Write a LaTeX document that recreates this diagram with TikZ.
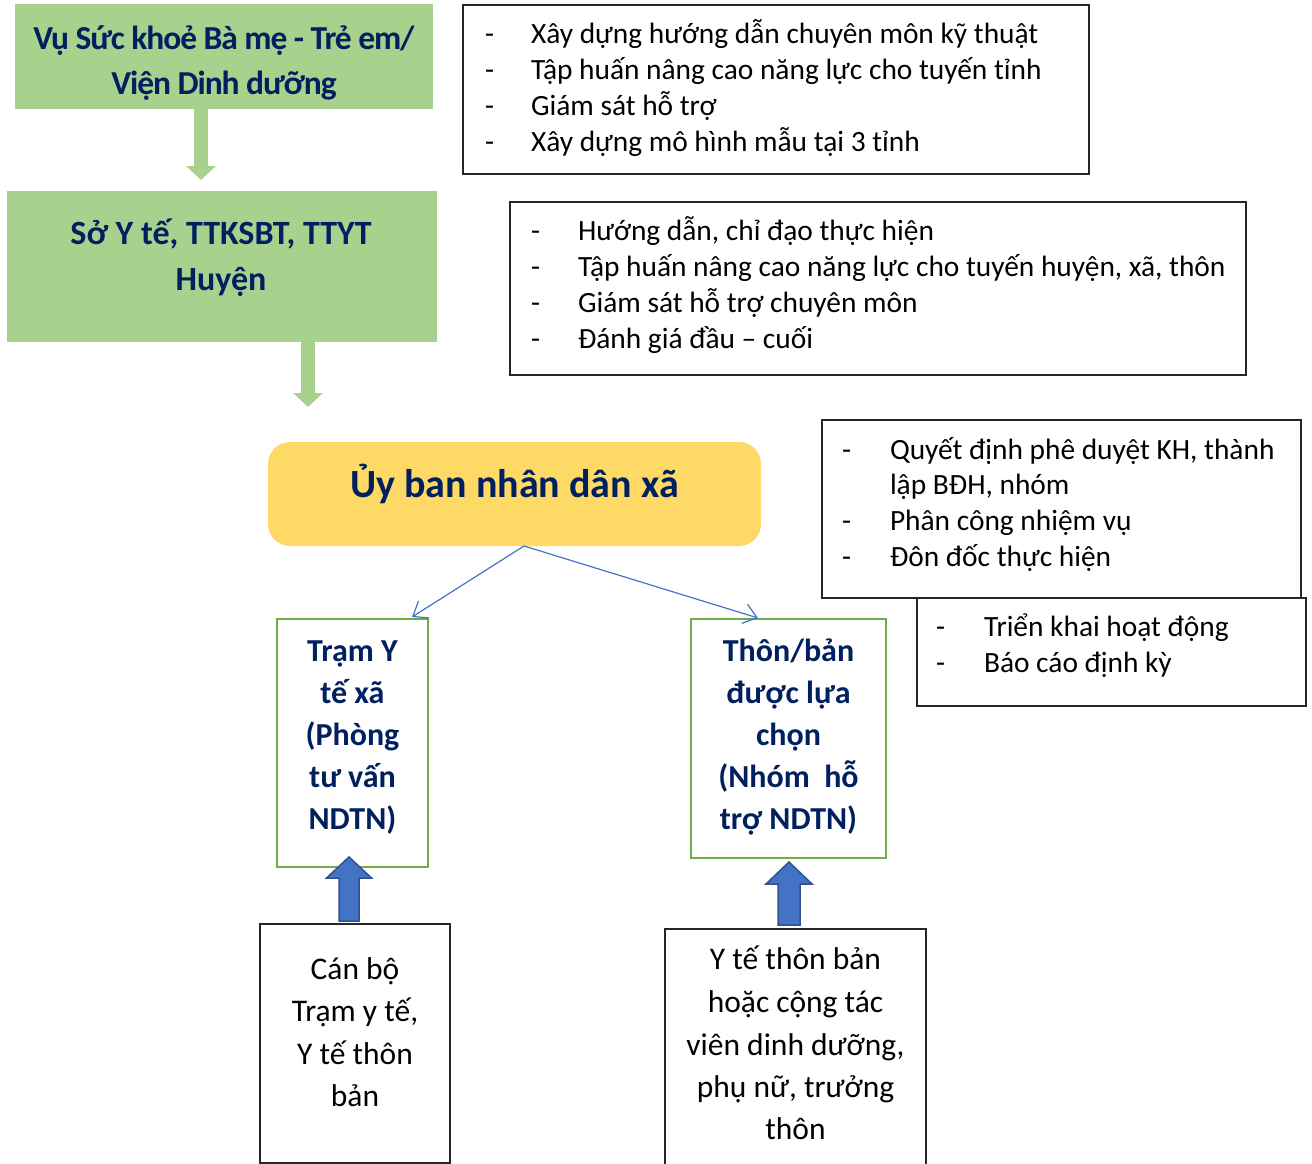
\documentclass[tikz,border=0pt]{standalone}
\usepackage{fontspec}
\setmainfont{Carlito}
\newfontfamily\condfont[LetterSpace=-3.2]{Carlito}
\usetikzlibrary{arrows.meta}
\definecolor{navy}{HTML}{002060}
\definecolor{lgreen}{HTML}{A9D18E}
\definecolor{ogreen}{HTML}{70AD47}
\definecolor{yel}{HTML}{FFD966}
\definecolor{bfill}{HTML}{4472C4}
\definecolor{bdraw}{HTML}{2F528F}
\begin{document}
\begin{tikzpicture}[x=1pt,y=-1pt,
  every node/.style={inner sep=0pt,outer sep=0pt},
  gbox/.style={fill=lgreen,draw=none,anchor=north west},
  tbox/.style={draw=black!85,line width=1.3pt,fill=white,anchor=north west},
  obox/.style={draw=ogreen,line width=2.6pt,fill=white,anchor=north west},
  ybox/.style={fill=yel,draw=none,rounded corners=22pt,anchor=north west},
  bultxt/.style={anchor=base west,font=\fontsize{29.4}{36}\selectfont},
  cbtxt/.style={anchor=base,font=\fontsize{32}{42}\selectfont\bfseries,text=navy},
  lowtxt/.style={anchor=base,font=\fontsize{31.5}{42}\selectfont},
  garr/.style={draw=lgreen,line width=14pt,-{Triangle[width=29pt,length=14pt]}},
  bline/.style={draw=bfill,line width=1.2pt,-{Straight Barb[length=13pt,width=20pt,line width=1.2pt]}},
  barrow/.style={fill=bfill,draw=bdraw,line width=1.5pt,line join=miter}
]
\useasboundingbox (0,0) rectangle (1312,1164);

% top green boxes
\node[gbox,minimum width=418,minimum height=105] (vu) at (15,4) {};
\node[anchor=base,font=\fontsize{33.5}{45}\condfont\bfseries,text=navy] (vu1) at (224,49) {Vụ Sức khoẻ Bà mẹ - Trẻ em/};
\node[anchor=base,font=\fontsize{33.5}{45}\condfont\bfseries,text=navy] (vu2) at (224,94) {Viện Dinh dưỡng};

\node[gbox,minimum width=430,minimum height=151] (so) at (7,191) {};
\node[anchor=base,font=\fontsize{34}{46}\selectfont\bfseries,text=navy] (so1) at (221,244) {Sở Y tế, TTKSBT, TTYT};
\node[anchor=base,font=\fontsize{34}{46}\selectfont\bfseries,text=navy] (so2) at (221,290) {Huyện};

\coordinate (g1) at (201,0);
\coordinate (g2) at (308,0);
\coordinate (g2end) at (308,407);
\draw[garr] (vu.south -| g1) -- ([yshift=11pt]so.north -| g1);
\draw[garr] (so.south -| g2) -- (g2end);

% text box C
\node[tbox,minimum width=626,minimum height=169] (c) at (463,5) {};
\foreach \yy/\txt in {44/{Xây dựng hướng dẫn chuyên môn kỹ thuật},
                      80/{Tập huấn nâng cao năng lực cho tuyến tỉnh},
                      115/{Giám sát hỗ trợ},
                      151/{Xây dựng mô hình mẫu tại 3 tỉnh}}{
  \node[bultxt] (cd\yy) at (485,\yy) {-};
  \node[bultxt] (ct\yy) at (531,\yy) {\txt};
}

% text box D
\node[tbox,minimum width=736,minimum height=173] (d) at (510,202) {};
\foreach \yy/\txt in {240/{Hướng dẫn, chỉ đạo thực hiện},
                      276/{Tập huấn nâng cao năng lực cho tuyến huyện, xã, thôn},
                      312/{Giám sát hỗ trợ chuyên môn},
                      348/{Đánh giá đầu – cuối}}{
  \node[bultxt] (dd\yy) at (531,\yy) {-};
  \node[bultxt] (dt\yy) at (578,\yy) {\txt};
}

% yellow box
\node[ybox,minimum width=493,minimum height=104] (u) at (268,442) {};
\node[anchor=base,font=\fontsize{40}{48}\selectfont\bfseries,text=navy] (ut) at (514.5,497) {Ủy ban nhân dân xã};

% text box E
\node[tbox,minimum width=479,minimum height=178] (e) at (822,420) {};
\node[bultxt] (ed1) at (842,459) {-};
\node[bultxt] (et1) at (890,459) {Quyết định phê duyệt KH, thành};
\node[bultxt] (et1b) at (890,494) {lập BĐH, nhóm};
\node[bultxt] (ed2) at (842,530) {-};
\node[bultxt] (et2) at (890,530) {Phân công nhiệm vụ};
\node[bultxt] (ed3) at (842,566) {-};
\node[bultxt] (et3) at (890,566) {Đôn đốc thực hiện};

% text box F
\node[tbox,minimum width=389,minimum height=108] (f) at (917,598) {};
\node[bultxt] (fd1) at (936,636) {-};
\node[bultxt] (ft1) at (984,636) {Triển khai hoạt động};
\node[bultxt] (fd2) at (936,672) {-};
\node[bultxt] (ft2) at (984,672) {Báo cáo định kỳ};

% green outlined boxes
\node[obox,minimum width=151,minimum height=248] (g) at (277,619) {};
\foreach \yy/\txt [count=\i] in {661/{Trạm Y},703/{tế xã},745/{(Phòng},787/{tư vấn},829/{NDTN)}}{
  \node[cbtxt] (gt\i) at (352.5,\yy) {\txt};
}
\node[obox,minimum width=195,minimum height=239] (h) at (691,619) {};
\foreach \yy/\txt [count=\i] in {661/{Thôn/bản},703/{được lựa},745/{chọn},787/{(Nhóm\ \ hỗ},829/{trợ NDTN)}}{
  \node[cbtxt] (ht\i) at (788.5,\yy) {\txt};
}

% connectors from yellow box
\draw[bline] ([xshift=9.5pt]u.south) -- ([xshift=59.5pt,yshift=2pt]g.north);
\draw[bline] ([xshift=9.5pt]u.south) -- ([xshift=-30.5pt,yshift=1pt]h.north);

% bottom boxes
\node[tbox,minimum width=190,minimum height=239] (i) at (260,924) {};
\foreach \yy/\txt [count=\i] in {979/{Cán bộ},1021/{Trạm y tế,},1064/{Y tế thôn},1106/{bản}}{
  \node[lowtxt] (it\i) at (355,\yy) {\txt};
}
\node[tbox,minimum width=261,minimum height=236] (j) at (665,929) {};
\foreach \yy/\txt [count=\i] in {969/{Y tế thôn bản},1012/{hoặc cộng tác},1055/{viên dinh dưỡng,},1097/{phụ nữ, trưởng},1139/{thôn}}{
  \node[lowtxt] (jt\i) at (795.5,\yy) {\txt};
}

% blue block arrows
\draw[barrow] ([xshift=-3.5pt,yshift=10pt]g.south) -- ++(22.5,21) -- ++(-12.5,0) -- ++(0,43) -- ++(-20,0) -- ++(0,-43) -- ++(-12.5,0) -- cycle;
\draw[barrow] ([xshift=0.5pt,yshift=-4pt]h.south) -- ++(23,22) -- ++(-12,0) -- ++(0,41) -- ++(-22,0) -- ++(0,-41) -- ++(-12,0) -- cycle;
\end{tikzpicture}
\end{document}
